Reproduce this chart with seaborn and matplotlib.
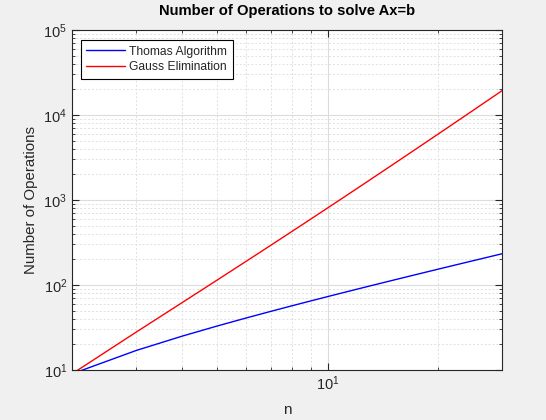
import matplotlib
matplotlib.use("Agg")
import matplotlib.pyplot as plt
import seaborn as sns
import pandas as pd
from matplotlib.ticker import LogLocator, NullFormatter

n_values = list(range(2, 31))
thomas_ops = [9, 17, 25, 33, 41, 49, 57, 65, 73, 81, 89, 97, 105, 113, 121,
              129, 137, 145, 153, 161, 169, 177, 185, 193, 201, 209, 217, 225, 233]
gauss_ops = [9, 28, 62, 115, 191, 294, 428, 597, 805, 1056, 1354, 1703, 2107,
             2570, 3096, 3689, 4353, 5092, 5910, 6811, 7799, 8878, 10052, 11325,
             12701, 14184, 15778, 17487, 19315]
method_names = ["Thomas Algorithm", "Gauss Elimination"]

df = pd.DataFrame({
    "n": n_values * 2,
    "ops": thomas_ops + gauss_ops,
    "method": [method_names[0]] * len(n_values) + [method_names[1]] * len(n_values),
})

sns.set_style("ticks")
plt.rcParams["font.family"] = ["Liberation Sans", "DejaVu Sans"]
plt.rcParams["mathtext.default"] = "regular"

fig = plt.figure(figsize=(5.46, 4.2), dpi=100, facecolor="#f0f0f0")
ax = fig.add_axes([72 / 546, 50 / 420, 430 / 546, 340 / 420])
ax.set_facecolor("white")

sns.lineplot(data=df, x="n", y="ops", hue="method",
             palette={method_names[0]: "#0000ff", method_names[1]: "#ff0000"},
             linewidth=1, ax=ax)

ax.set_xscale("log")
ax.set_yscale("log")
ax.set_xlim(2, 30)
ax.set_ylim(10, 1e5)
ax.yaxis.set_major_locator(LogLocator(base=10, numticks=10))
ax.yaxis.set_minor_locator(LogLocator(base=10, subs=range(2, 10), numticks=20))
ax.yaxis.set_minor_formatter(NullFormatter())
ax.xaxis.set_minor_formatter(NullFormatter())

ax.grid(True, which="major", color="#dcdcdc", linestyle="-", linewidth=0.8)
ax.grid(True, which="minor", color="#e0e0e0", linestyle=(0, (2, 2)), linewidth=0.7)
ax.set_axisbelow(True)

for s in ax.spines.values():
    s.set_color("#262626")
    s.set_linewidth(0.8)
ax.tick_params(which="both", direction="in", top=True, right=True,
               colors="#262626", labelsize=10.5)
ax.tick_params(which="major", length=5)
ax.tick_params(which="minor", length=2.5)

ax.set_title("Number of Operations to solve Ax=b", fontsize=10.6,
             fontweight="bold", color="black", pad=11)
ax.set_xlabel("n", fontsize=11, color="#262626", labelpad=7)
ax.set_ylabel("Number of Operations", fontsize=10.8, color="#262626", labelpad=4)

leg = ax.legend(loc="upper left", bbox_to_anchor=(0.021, 0.97), fontsize=8.7,
                frameon=True, fancybox=False, edgecolor="black",
                framealpha=1, borderpad=0.45, handlelength=3.2,
                handletextpad=0.35, labelspacing=0.3, borderaxespad=0)
leg.get_frame().set_linewidth(0.8)

fig.savefig("out.png", dpi=100, facecolor=fig.get_facecolor())
